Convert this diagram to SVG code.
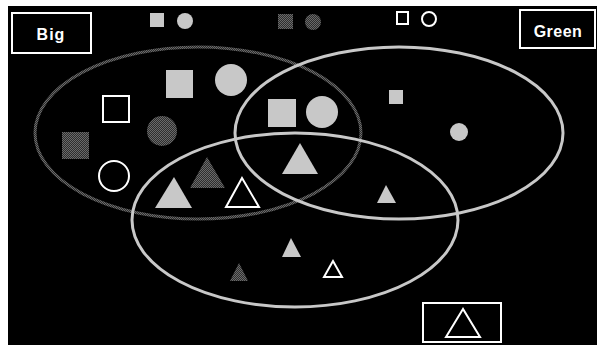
<svg xmlns="http://www.w3.org/2000/svg" width="597" height="345" viewBox="0 0 597 345">
<style>
.lbl{font-family:"Liberation Sans",Arial,sans-serif;font-weight:bold;font-size:16px;fill:#fff;text-anchor:middle}
.box{fill:#000;stroke:#fff;stroke-width:2}
.gray{fill:#c8c8c8}
.dark{fill:url(#dither)}
.out{fill:#000;stroke:#fff;stroke-width:2}
.setL{fill:none;stroke:#c8c8c8;stroke-width:3}
.setD{fill:none;stroke:url(#dither);stroke-width:3}
</style>
<defs>
<pattern id="dither" width="2" height="2" patternUnits="userSpaceOnUse">
<rect width="2" height="2" fill="#2e2e2e"/>
<rect width="1" height="1" fill="#6a6a6a"/>
<rect x="1" y="1" width="1" height="1" fill="#6a6a6a"/>
</pattern>
</defs>
<rect width="597" height="345" fill="#fff"/>
<rect x="8" y="6" width="589" height="339" fill="#000"/>
<g id="sets">
<ellipse id="set-big" class="setD" cx="198" cy="133" rx="163" ry="86"/>
<ellipse id="set-green" class="setL" cx="399" cy="133" rx="164" ry="86"/>
<ellipse id="set-tri" class="setL" cx="295" cy="220" rx="163" ry="87"/>
</g>
<g id="label-big"><rect class="box" x="12" y="13" width="79" height="40"/><text class="lbl" x="51" y="40" letter-spacing="1">Big</text></g>
<g id="label-green"><rect class="box" x="520" y="10" width="75" height="38"/><text class="lbl" x="558" y="37" letter-spacing="0.5">Green</text></g>
<g id="legend-tri"><rect class="box" x="423" y="303" width="78" height="39"/><polygon class="out" points="463,309 446,337 480,337"/></g>
<g id="top-gray-sq"><rect class="gray" x="150" y="13" width="14" height="14"/></g>
<g id="top-gray-ci"><circle class="gray" cx="185" cy="21" r="8"/></g>
<g id="top-dark-sq"><rect class="dark" x="278" y="14" width="15" height="15"/></g>
<g id="top-dark-ci"><circle class="dark" cx="313" cy="22" r="8"/></g>
<g id="top-white-sq"><rect class="out" x="397" y="12" width="11" height="12" stroke-width="1.5"/></g>
<g id="top-white-ci"><circle class="out" cx="429" cy="19" r="7" stroke-width="1.5"/></g>
<g id="big-gray-sq"><rect class="gray" x="166" y="70" width="27" height="28"/></g>
<g id="big-gray-ci"><circle class="gray" cx="231" cy="80" r="16"/></g>
<g id="big-white-sq"><rect class="out" x="103" y="96" width="26" height="26"/></g>
<g id="big-dark-ci"><circle class="dark" cx="162" cy="131" r="15"/></g>
<g id="big-dark-sq"><rect class="dark" x="62" y="132" width="27" height="27"/></g>
<g id="big-white-ci"><circle class="out" cx="114" cy="176" r="15"/></g>
<g id="big-gray-tri"><polygon class="gray" points="174,177 155,208 192,208"/></g>
<g id="big-dark-tri"><polygon class="dark" points="207,157 190,188 225,188"/></g>
<g id="big-white-tri"><polygon class="out" points="242,178 226,207 259,207"/></g>
<g id="bg-gray-sq"><rect class="gray" x="268" y="99" width="28" height="28"/></g>
<g id="bg-gray-ci"><circle class="gray" cx="322" cy="112" r="16"/></g>
<g id="bg-gray-tri"><polygon class="gray" points="300,143 282,174 318,174"/></g>
<g id="green-gray-sq"><rect class="gray" x="389" y="90" width="14" height="14"/></g>
<g id="green-gray-ci"><circle class="gray" cx="459" cy="132" r="9"/></g>
<g id="green-gray-tri"><polygon class="gray" points="386,185 377,203 396,203"/></g>
<g id="small-gray-tri"><polygon class="gray" points="291,238 282,257 301,257"/></g>
<g id="small-dark-tri"><polygon class="dark" points="239,263 230,281 248,281"/></g>
<g id="small-white-tri"><polygon class="out" points="333,261 324,277 342,277" stroke-width="1.5"/></g>
</svg>
